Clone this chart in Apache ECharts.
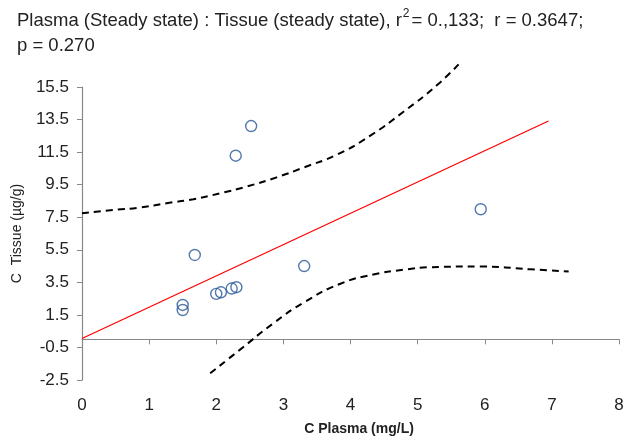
<!DOCTYPE html>
<html>
<head>
<meta charset="utf-8">
<script src="https://cdn.jsdelivr.net/npm/echarts@6/dist/echarts.min.js"></script>
<style>html,body{margin:0;padding:0;background:#fff}#c{width:625px;height:437px}</style>
</head>
<body>
<div id="c"></div>
<script>
// Observed points (C Plasma mg/L, C Tissue µg/g)
const plasma = [1.50, 1.50, 1.68, 2.00, 2.07, 2.23, 2.30, 2.29, 2.52, 3.31, 5.94];
const tissue = [2.11, 1.80, 5.18, 2.79, 2.89, 3.12, 3.20, 11.28, 13.10, 4.50, 7.99];
// Regression line endpoints
const fitX = [0, 6.95];
const fitY = [0.05, 13.41];
// Upper confidence band
const upperX = [0, 0.47, 0.86, 1.26, 1.66, 2.06, 2.45, 2.90, 3.30, 3.80, 4.29, 4.79, 5.29, 5.61];
const upperY = [7.74, 7.95, 8.09, 8.36, 8.61, 8.97, 9.38, 9.95, 10.55, 11.35, 12.50, 13.98, 15.62, 16.89];
// Lower confidence band
const lowerX = [1.91, 2.35, 2.85, 3.30, 3.84, 4.34, 4.80, 5.19, 5.93, 6.68, 7.25];
const lowerY = [-2.09, -0.65, 0.98, 2.25, 3.40, 3.98, 4.28, 4.43, 4.47, 4.30, 4.16];

const zip = (a, b) => a.map((v, i) => [v, b[i]]);
const chart = echarts.init(document.getElementById('c'));
const F = 'Liberation Sans, Arial, Helvetica, sans-serif';
chart.setOption({
  animation: false,
  title: {
    left: 17, top: 8, padding: 0,
    text: 'Plasma (Steady state) : Tissue (steady state), r{sup|2}= 0.,133;  r = 0.3647;\np = 0.270',
    textStyle: {
      fontFamily: F, fontSize: 18.5, fontWeight: 'normal', color: '#222', lineHeight: 25,
      rich: { sup: { fontSize: 12, verticalAlign: 'top', padding: [0, 2, 6, 1], fontFamily: F, color: '#222' } }
    }
  },
  grid: { left: 82, right: 6, top: 87, bottom: 57, outerBoundsMode: 'none', containLabel: false },
  xAxis: {
    type: 'value', min: 0, max: 8, interval: 1,
    name: 'C Plasma (mg/L)', nameLocation: 'middle', nameGap: 42,
    nameTextStyle: { fontFamily: F, fontSize: 14, fontWeight: 'bold', color: '#222', padding: [0, 0, 0, 17] },
    axisLine: { lineStyle: { color: '#888', width: 1.2 } },
    axisTick: { show: true, inside: false, length: 5, lineStyle: { color: '#888' } },
    axisLabel: { fontFamily: F, fontSize: 17, color: '#222', margin: 17 },
    splitLine: { show: false }
  },
  yAxis: {
    type: 'value', min: -2.5, max: 15.5, interval: 2,
    name: 'C  Tissue (µg/g)', nameLocation: 'middle', nameGap: 58,
    nameTextStyle: { fontFamily: F, fontSize: 14, color: '#222' },
    axisLine: { show: true, lineStyle: { color: '#888', width: 1.2 } },
    axisTick: { show: true, inside: false, length: 5, lineStyle: { color: '#888' } },
    axisLabel: { fontFamily: F, fontSize: 17, color: '#222', margin: 13 },
    splitLine: { show: false }
  },
  series: [
    {
      type: 'line', data: zip(upperX, upperY), smooth: true, clip: false, symbol: 'none',
      lineStyle: { color: '#000', width: 2, type: [7, 5] }
    },
    {
      type: 'line', data: zip(lowerX, lowerY), smooth: true, clip: false, symbol: 'none',
      lineStyle: { color: '#000', width: 2, type: [7, 5] }
    },
    {
      type: 'line', data: zip(fitX, fitY), symbol: 'none',
      lineStyle: { color: '#ff0000', width: 1.3 }
    },
    {
      type: 'scatter', data: zip(plasma, tissue), symbol: 'circle', symbolSize: 11,
      itemStyle: { color: 'rgba(255,255,255,0)', borderColor: '#2b5797', borderWidth: 1.4 }
    }
  ]
});
</script>
</body>
</html>
